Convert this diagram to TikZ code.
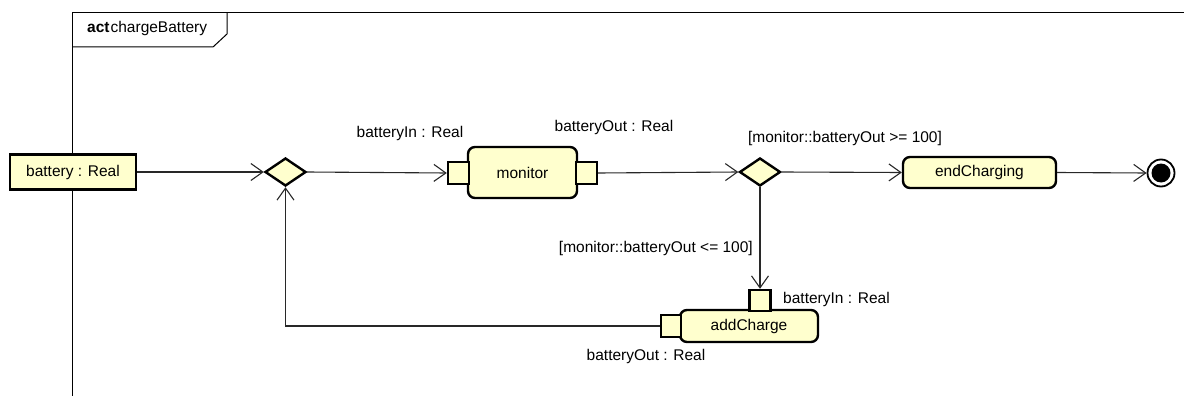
\documentclass[tikz,border=0pt]{standalone}
\usepackage{fontspec}
\setmainfont{Liberation Sans}
\usetikzlibrary{shapes.geometric,arrows.meta}
\definecolor{nodefill}{RGB}{255,255,206}
\definecolor{linegray}{RGB}{40,40,40}
\tikzset{
  txt/.style={font=\fontsize{15.5}{18}\selectfont, text=black, inner sep=0pt},
  objbox/.style={draw=black, line width=2.6pt, fill=nodefill, inner sep=0pt, txt},
  actbox/.style={draw=black, line width=2.4pt, fill=nodefill, rounded corners=7pt, inner sep=0pt, txt},
  pinbox/.style={draw=black, line width=2.4pt, fill=nodefill, inner sep=0pt},
  decision/.style={diamond, draw=black, line width=2.4pt, fill=nodefill, inner sep=0pt,
    minimum width=41pt, minimum height=28pt},
  flow/.style={draw=linegray, line width=1.1pt, -{Straight Barb[length=12pt,width=17pt,line width=1.1pt]}},
  plainflow/.style={draw=linegray, line width=1.1pt},
}
\begin{document}
\begin{tikzpicture}[x=1pt,y=-1pt]
\useasboundingbox (0,0) rectangle (1184,396);

% activity frame
\draw[line width=1pt] (72,396) -- (72,13) -- (1184,13);
\draw[line width=1pt] (227,13) -- (227,34) -- (213,47) -- (72,47);
\node[txt, anchor=base west] (frametitle) at (87,33) {\textbf{act}\kern1pt chargeBattery};

% nodes
\node[objbox, minimum width=126pt, minimum height=35pt] (battery) at (73,172) {battery : Real};
\node[decision] (d1) at (285.5,172) {};
\node[actbox, minimum width=109pt, minimum height=51pt] (monitor) at (522.5,172.5) {monitor};
\node[pinbox, minimum width=21pt, minimum height=22pt] (monIn) at (458.5,173) {};
\node[pinbox, minimum width=21pt, minimum height=22pt] (monOut) at (586.5,173) {};
\node[decision] (d2) at (760,172) {};
\node[actbox, minimum width=153pt, minimum height=31pt] (endCharging) at (979.5,172.5) {endCharging};
\node[circle, draw=black, line width=1.8pt, fill=white, minimum size=27pt, inner sep=0pt] (final) at (1161,173) {};
\node[circle, fill=black, minimum size=19pt, inner sep=0pt] (finalDot) at (final.center) {};
\node[actbox, minimum width=138pt, minimum height=32pt] (addCharge) at (749,326) {addCharge};
\node[pinbox, minimum width=21pt, minimum height=21pt] (addIn) at (760,300.5) {};
\node[pinbox, minimum width=20pt, minimum height=22pt] (addOut) at (671,326) {};

% pin and guard labels
\node[txt] (lblMonIn) at (410,133) {batteryIn : Real};
\node[txt] (lblMonOut) at (614,127) {batteryOut : Real};
\node[txt] (guardHi) at (845,138) {[monitor::batteryOut >= 100]};
\node[txt, anchor=east] (guardLo) at (753,248) {[monitor::batteryOut <= 100]};
\node[txt, anchor=west] (lblAddIn) at (783,299) {batteryIn : Real};
\node[txt] (lblAddOut) at (646,356) {batteryOut : Real};

% control / object flows
\draw[flow] (battery.east) -- (d1.west);
\draw[flow] (d1.east) -- (monIn.west);
\draw[flow] (monOut.east) -- (d2.west);
\draw[flow] (d2.east) -- (endCharging.west);
\draw[flow] (endCharging.east) -- (final.west);
\draw[flow] (d2.south) -- (addIn.north);
\draw[flow] (addOut.west) -| (d1.south);
\end{tikzpicture}
\end{document}
